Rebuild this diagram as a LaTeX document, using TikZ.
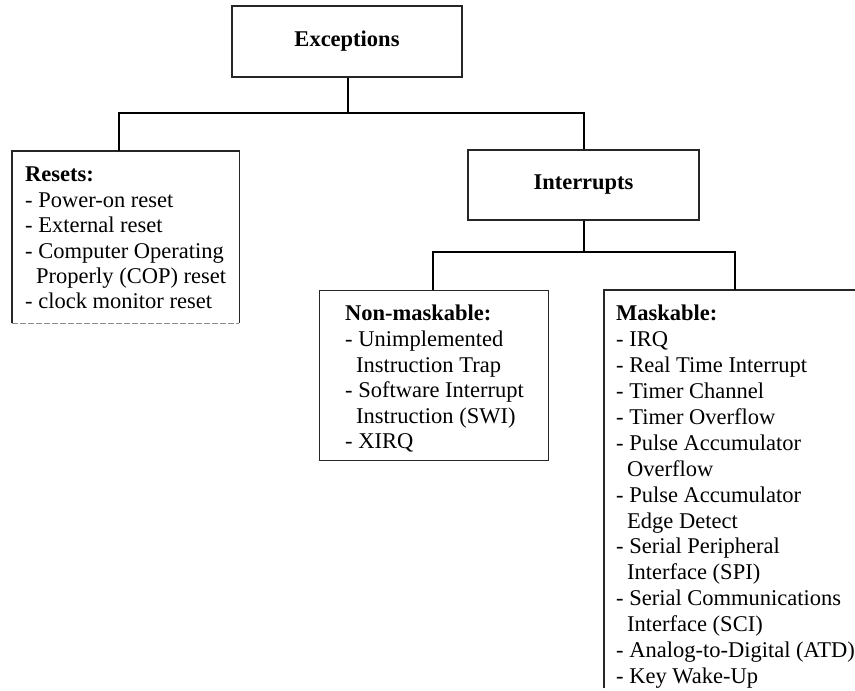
\documentclass[tikz,border=0pt]{standalone}
\usepackage{fontspec}
\setmainfont{Liberation Serif}
\newcommand{\myind}{\hspace*{11pt}}
\tikzset{
  boxline/.style={draw=black!85, line width=1.3pt},
  conn/.style={draw=black, line width=2pt},
  headbox/.style={boxline, inner sep=0pt, font=\fontsize{22.5}{25.4}\selectfont\bfseries},
  frame/.style={inner sep=0pt, anchor=north west},
  listtext/.style={inner sep=0pt, anchor=north west, align=left, font=\fontsize{22.5}{25.4}\selectfont}
}
\begin{document}
\begin{tikzpicture}[x=1pt, y=-1pt]
\useasboundingbox[fill=white] (0,0) rectangle (855,691);

% top level
\node[headbox, minimum width=230pt, minimum height=71pt] (exc) at (347,41.5) {Exceptions};
\node[headbox, minimum width=231pt, minimum height=70pt] (int) at (583.5,185) {Interrupts};

% Resets box
\node[frame, minimum width=227pt, minimum height=172pt] (res) at (12,151) {};
\draw[boxline] (res.south west) -- (res.north west) -- (res.north east) -- (res.south east);
\draw[draw=black!45, line width=1pt, dash pattern=on 6pt off 2pt] (res.south west) -- (res.south east);
\node[listtext] (rest) at (25,167) {\textbf{Resets:}\\
- Power-on reset\\
- External reset\\
- Computer Operating\\
\myind Properly (COP) reset\\
- clock monitor reset};

% Non-maskable box
\node[frame, boxline, minimum width=229pt, minimum height=170pt] (nm) at (319,290) {};
\node[listtext, font=\fontsize{22.5}{25.6}\selectfont] (nmt) at (345,305) {\textbf{Non-maskable:}\\
- Unimplemented\\
\myind Instruction Trap\\
- Software Interrupt\\
\myind Instruction (SWI)\\
- XIRQ};

% Maskable box (open to the right and bottom)
\node[frame, minimum width=251pt, minimum height=398pt] (mk) at (604,290) {};
\draw[boxline] (mk.south west) -- (mk.north west) -- (mk.north east);
\node[listtext, font=\fontsize{22.5}{25.9}\selectfont] (mkt) at (616,305) {\textbf{Maskable:}\\
- IRQ\\
- Real Time Interrupt\\
- Timer Channel\\
- Timer Overflow\\
- Pulse Accumulator\\
\myind Overflow\\
- Pulse Accumulator\\
\myind Edge Detect\\
- Serial Peripheral\\
\myind Interface (SPI)\\
- Serial Communications\\
\myind Interface (SCI)\\
- Analog-to-Digital (ATD)\\
- Key Wake-Up};

% junctions
\coordinate (j1) at (348,113);
\coordinate (j2) at (583.5,252);

% connectors
\draw[conn] (exc.south -| j1) -- (j1);
\draw[conn] ([xshift=-6.5pt]res.north) |- (j1) -| (int.north);
\draw[conn] (int.south) -- (j2);
\draw[conn] ([xshift=-1.5pt]nm.north) |- (j2) -| ([xshift=5.5pt]mk.north);
\end{tikzpicture}
\end{document}
